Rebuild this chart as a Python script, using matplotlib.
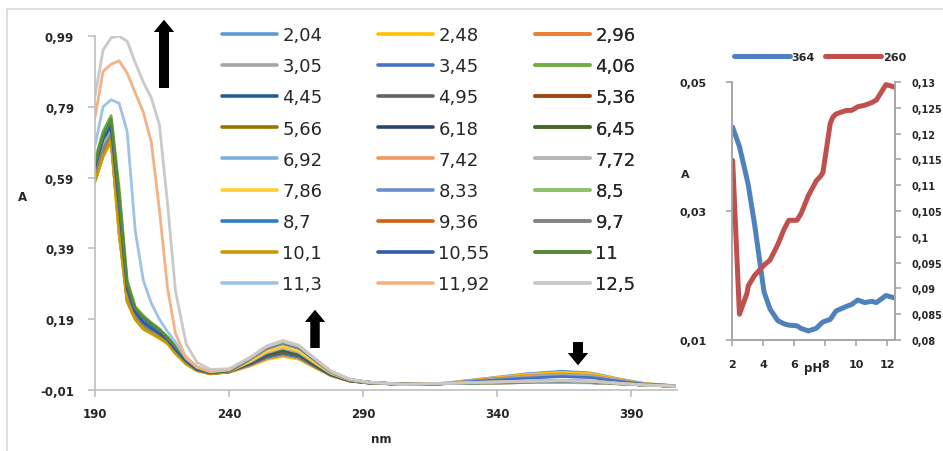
import matplotlib.pyplot as plt
from matplotlib.lines import Line2D

# wavelength grid (nm) for the spectra
wavelengths = [190, 193, 196, 199, 202, 205, 208, 211, 214, 217, 220, 224, 228, 233, 240,
               248, 254, 260, 266, 272, 278, 285, 292, 305, 320, 335, 350, 364, 375, 385,
               395, 406]

ph_values = [2.04, 2.48, 2.96, 3.05, 3.45, 4.06, 4.45, 4.95, 5.36, 5.66, 6.18, 6.45, 6.92,
             7.42, 7.72, 7.86, 8.33, 8.5, 8.7, 9.36, 9.7, 10.1, 10.55, 11, 11.3, 11.92, 12.5]
ph_labels = ['2,04', '2,48', '2,96', '3,05', '3,45', '4,06', '4,45', '4,95', '5,36', '5,66',
             '6,18', '6,45', '6,92', '7,42', '7,72', '7,86', '8,33', '8,5', '8,7', '9,36',
             '9,7', '10,1', '10,55', '11', '11,3', '11,92', '12,5']
series_colors = ['#5B9BD5', '#FFC000', '#ED7D31', '#A5A5A5', '#4472C4', '#70AD47',
                 '#255E91', '#636363', '#9E480E', '#997300', '#264478', '#43682B',
                 '#7CAFDD', '#F1975A', '#B7B7B7', '#FFCD33', '#698ED0', '#8CC168',
                 '#327DC2', '#D26012', '#848484', '#CC9A00', '#335AA1', '#5A8A39',
                 '#9DC3E6', '#F4B183', '#C9C9C9']

# absorbance of each spectrum, one row per pH (same order as ph_values)
spectra = [
    [0.61, 0.68, 0.72, 0.49, 0.26, 0.205, 0.175, 0.16, 0.147, 0.13, 0.102, 0.07, 0.048, 0.038, 0.043, 0.072, 0.1, 0.115, 0.103, 0.07, 0.038, 0.018, 0.011, 0.006, 0.009, 0.022, 0.035, 0.043, 0.038, 0.022, 0.008, 0.002],
    [0.58, 0.65, 0.70, 0.44, 0.24, 0.19, 0.162, 0.15, 0.136, 0.122, 0.094, 0.064, 0.045, 0.036, 0.04, 0.058, 0.076, 0.085, 0.077, 0.053, 0.03, 0.015, 0.01, 0.006, 0.009, 0.021, 0.033, 0.040, 0.036, 0.021, 0.008, 0.002],
    [0.60, 0.67, 0.71, 0.46, 0.25, 0.195, 0.168, 0.153, 0.14, 0.125, 0.097, 0.066, 0.046, 0.037, 0.041, 0.06, 0.079, 0.089, 0.08, 0.055, 0.031, 0.015, 0.01, 0.006, 0.008, 0.019, 0.029, 0.035, 0.031, 0.018, 0.007, 0.002],
    [0.59, 0.66, 0.705, 0.45, 0.245, 0.192, 0.165, 0.152, 0.138, 0.124, 0.096, 0.065, 0.046, 0.037, 0.041, 0.061, 0.08, 0.0905, 0.081, 0.056, 0.031, 0.015, 0.01, 0.006, 0.008, 0.018, 0.028, 0.034, 0.030, 0.018, 0.007, 0.002],
    [0.62, 0.70, 0.735, 0.52, 0.28, 0.215, 0.19, 0.17, 0.155, 0.135, 0.108, 0.075, 0.05, 0.039, 0.043, 0.063, 0.082, 0.0925, 0.083, 0.057, 0.032, 0.016, 0.01, 0.006, 0.008, 0.016, 0.023, 0.028, 0.025, 0.015, 0.006, 0.002],
    [0.64, 0.72, 0.765, 0.56, 0.30, 0.225, 0.20, 0.18, 0.163, 0.14, 0.115, 0.082, 0.055, 0.04, 0.045, 0.065, 0.084, 0.0945, 0.085, 0.058, 0.033, 0.016, 0.01, 0.006, 0.008, 0.012, 0.015, 0.0175, 0.015, 0.01, 0.005, 0.001],
    [0.60, 0.67, 0.715, 0.47, 0.255, 0.2, 0.17, 0.155, 0.142, 0.127, 0.099, 0.067, 0.047, 0.037, 0.042, 0.064, 0.085, 0.0955, 0.086, 0.059, 0.033, 0.016, 0.01, 0.006, 0.008, 0.011, 0.013, 0.0148, 0.013, 0.009, 0.004, 0.001],
    [0.59, 0.66, 0.705, 0.45, 0.25, 0.196, 0.167, 0.153, 0.14, 0.125, 0.097, 0.066, 0.046, 0.037, 0.042, 0.066, 0.087, 0.0985, 0.088, 0.06, 0.034, 0.017, 0.01, 0.006, 0.008, 0.01, 0.012, 0.013, 0.012, 0.008, 0.004, 0.001],
    [0.60, 0.67, 0.71, 0.46, 0.25, 0.197, 0.168, 0.154, 0.141, 0.126, 0.098, 0.066, 0.046, 0.037, 0.042, 0.067, 0.089, 0.1015, 0.091, 0.062, 0.035, 0.017, 0.011, 0.006, 0.008, 0.01, 0.011, 0.0125, 0.011, 0.008, 0.004, 0.001],
    [0.59, 0.66, 0.70, 0.45, 0.245, 0.194, 0.166, 0.152, 0.139, 0.124, 0.096, 0.065, 0.046, 0.037, 0.042, 0.068, 0.091, 0.1032, 0.092, 0.063, 0.035, 0.017, 0.011, 0.006, 0.008, 0.01, 0.011, 0.0123, 0.011, 0.008, 0.004, 0.001],
    [0.60, 0.67, 0.71, 0.46, 0.25, 0.198, 0.169, 0.155, 0.142, 0.127, 0.099, 0.067, 0.047, 0.037, 0.042, 0.068, 0.091, 0.1032, 0.092, 0.063, 0.035, 0.017, 0.011, 0.006, 0.008, 0.01, 0.011, 0.0122, 0.011, 0.008, 0.004, 0.001],
    [0.58, 0.65, 0.695, 0.43, 0.24, 0.19, 0.163, 0.15, 0.137, 0.122, 0.094, 0.064, 0.045, 0.036, 0.041, 0.068, 0.092, 0.1045, 0.093, 0.064, 0.036, 0.017, 0.011, 0.006, 0.008, 0.01, 0.011, 0.0118, 0.011, 0.008, 0.004, 0.001],
    [0.61, 0.68, 0.72, 0.48, 0.26, 0.2, 0.172, 0.157, 0.144, 0.128, 0.1, 0.068, 0.047, 0.038, 0.043, 0.07, 0.095, 0.108, 0.096, 0.066, 0.037, 0.018, 0.011, 0.006, 0.008, 0.01, 0.011, 0.0114, 0.01, 0.007, 0.004, 0.001],
    [0.60, 0.67, 0.71, 0.46, 0.25, 0.196, 0.168, 0.154, 0.141, 0.126, 0.098, 0.066, 0.046, 0.037, 0.043, 0.072, 0.097, 0.1108, 0.099, 0.067, 0.037, 0.018, 0.011, 0.006, 0.008, 0.01, 0.011, 0.0118, 0.011, 0.008, 0.004, 0.001],
    [0.59, 0.66, 0.70, 0.45, 0.245, 0.193, 0.166, 0.152, 0.139, 0.124, 0.096, 0.065, 0.046, 0.037, 0.043, 0.072, 0.098, 0.1118, 0.1, 0.068, 0.038, 0.018, 0.011, 0.006, 0.008, 0.01, 0.011, 0.0125, 0.011, 0.008, 0.004, 0.001],
    [0.58, 0.65, 0.69, 0.43, 0.24, 0.19, 0.162, 0.15, 0.136, 0.121, 0.093, 0.063, 0.045, 0.036, 0.042, 0.073, 0.099, 0.1125, 0.1, 0.068, 0.038, 0.018, 0.011, 0.006, 0.008, 0.01, 0.012, 0.0128, 0.012, 0.008, 0.004, 0.001],
    [0.60, 0.67, 0.71, 0.47, 0.255, 0.198, 0.17, 0.155, 0.142, 0.127, 0.099, 0.067, 0.047, 0.038, 0.044, 0.078, 0.107, 0.122, 0.109, 0.074, 0.041, 0.019, 0.012, 0.006, 0.008, 0.01, 0.012, 0.0132, 0.012, 0.008, 0.004, 0.001],
    [0.61, 0.69, 0.73, 0.50, 0.27, 0.21, 0.18, 0.163, 0.15, 0.132, 0.104, 0.071, 0.049, 0.038, 0.044, 0.079, 0.108, 0.1232, 0.11, 0.075, 0.041, 0.019, 0.012, 0.006, 0.008, 0.01, 0.012, 0.0138, 0.012, 0.008, 0.004, 0.001],
    [0.62, 0.70, 0.74, 0.51, 0.275, 0.212, 0.182, 0.165, 0.151, 0.133, 0.105, 0.072, 0.049, 0.038, 0.044, 0.079, 0.108, 0.1238, 0.11, 0.075, 0.041, 0.019, 0.012, 0.006, 0.008, 0.011, 0.013, 0.0145, 0.013, 0.009, 0.004, 0.001],
    [0.59, 0.66, 0.70, 0.45, 0.245, 0.194, 0.166, 0.152, 0.139, 0.124, 0.096, 0.065, 0.046, 0.037, 0.043, 0.079, 0.109, 0.1245, 0.111, 0.076, 0.042, 0.019, 0.012, 0.006, 0.008, 0.011, 0.013, 0.0152, 0.013, 0.009, 0.004, 0.001],
    [0.60, 0.67, 0.71, 0.46, 0.25, 0.197, 0.168, 0.154, 0.141, 0.126, 0.098, 0.066, 0.046, 0.037, 0.043, 0.079, 0.109, 0.1245, 0.111, 0.076, 0.042, 0.019, 0.012, 0.006, 0.008, 0.011, 0.013, 0.0155, 0.014, 0.009, 0.004, 0.001],
    [0.58, 0.65, 0.695, 0.44, 0.24, 0.19, 0.163, 0.15, 0.137, 0.122, 0.094, 0.064, 0.045, 0.036, 0.043, 0.08, 0.11, 0.1252, 0.112, 0.076, 0.042, 0.019, 0.012, 0.006, 0.008, 0.011, 0.014, 0.0162, 0.014, 0.009, 0.004, 0.001],
    [0.62, 0.70, 0.735, 0.51, 0.275, 0.21, 0.18, 0.164, 0.15, 0.132, 0.104, 0.071, 0.048, 0.038, 0.044, 0.08, 0.11, 0.1255, 0.112, 0.076, 0.042, 0.019, 0.012, 0.006, 0.008, 0.011, 0.014, 0.0158, 0.014, 0.009, 0.004, 0.001],
    [0.63, 0.71, 0.755, 0.54, 0.29, 0.22, 0.195, 0.177, 0.16, 0.138, 0.112, 0.078, 0.052, 0.039, 0.045, 0.081, 0.111, 0.126, 0.113, 0.077, 0.042, 0.019, 0.012, 0.006, 0.008, 0.011, 0.014, 0.016, 0.014, 0.009, 0.004, 0.001],
    [0.68, 0.79, 0.81, 0.80, 0.72, 0.44, 0.30, 0.235, 0.19, 0.155, 0.125, 0.08, 0.055, 0.042, 0.047, 0.081, 0.111, 0.1265, 0.113, 0.077, 0.042, 0.02, 0.012, 0.006, 0.008, 0.011, 0.014, 0.0158, 0.014, 0.009, 0.004, 0.001],
    [0.76, 0.89, 0.91, 0.92, 0.885, 0.83, 0.775, 0.69, 0.50, 0.28, 0.15, 0.08, 0.055, 0.042, 0.048, 0.083, 0.114, 0.1295, 0.116, 0.079, 0.043, 0.02, 0.012, 0.006, 0.009, 0.012, 0.015, 0.0169, 0.015, 0.009, 0.004, 0.001],
    [0.82, 0.95, 0.985, 0.99, 0.975, 0.915, 0.86, 0.815, 0.74, 0.52, 0.27, 0.12, 0.068, 0.048, 0.05, 0.083, 0.114, 0.129, 0.116, 0.079, 0.043, 0.02, 0.012, 0.006, 0.009, 0.012, 0.015, 0.0165, 0.015, 0.009, 0.004, 0.001],
]

# absorbance vs pH at the two wavelengths (inset)
abs_364 = [0.043, 0.040, 0.035, 0.034, 0.028, 0.0175, 0.0148, 0.013, 0.0125, 0.0123, 0.0122,
           0.0118, 0.0114, 0.0118, 0.0125, 0.0128, 0.0132, 0.0138, 0.0145, 0.0152, 0.0155,
           0.0162, 0.0158, 0.016, 0.0158, 0.0169, 0.0165]
abs_260 = [0.1148, 0.085, 0.089, 0.0905, 0.0925, 0.0945, 0.0955, 0.0985, 0.1015, 0.1032,
           0.1032, 0.1045, 0.108, 0.1108, 0.1118, 0.1125, 0.122, 0.1232, 0.1238, 0.1245,
           0.1245, 0.1252, 0.1255, 0.126, 0.1265, 0.1295, 0.129]

main_xticks = [190, 240, 290, 340, 390]
main_yticks = [-0.01, 0.19, 0.39, 0.59, 0.79, 0.99]
inset_xticks = [2, 4, 6, 8, 10, 12]
inset_yticks = [0.01, 0.03, 0.05]
inset_y2ticks = [0.08, 0.085, 0.09, 0.095, 0.1, 0.105, 0.11, 0.115, 0.12, 0.125, 0.13]

W, H = 943, 452
TXT = '#262626'
AXC = '#BFBFBF'


def fx(px):
    return px / W


def fy(py):
    return 1 - py / H


def comma(v):
    return f'{v:g}'.replace('.', ',')


fig = plt.figure(figsize=(W / 100, H / 100), dpi=100)

# outer chart border (left and top visible)
fig.add_artist(Line2D([fx(7), fx(7), 1.0], [0.0, fy(10), fy(10)],
                      transform=fig.transFigure, color='#D9D9D9', lw=1.2))

# ---- main spectra ----
ax = fig.add_axes([fx(95), fy(391), fx(677) - fx(95), fy(37) - fy(391)])
lines = []
for lab, col, ys in zip(ph_labels, series_colors, spectra):
    ln, = ax.plot(wavelengths, ys, color=col, lw=2.0, label=lab,
                  solid_capstyle='round', solid_joinstyle='round')
    lines.append(ln)

ax.set_xlim(190, 407)
ax.set_ylim(-0.01, 0.99)
ax.set_xticks(main_xticks)
ax.set_xticklabels([str(t) for t in main_xticks])
ax.set_yticks(main_yticks)
ax.set_yticklabels([comma(t) for t in main_yticks])
for side in ('top', 'right'):
    ax.spines[side].set_visible(False)
for side in ('left', 'bottom'):
    ax.spines[side].set_color(AXC)
    ax.spines[side].set_linewidth(1.2)
ax.tick_params(colors=AXC, length=5, width=1.2, labelcolor=TXT, labelsize=8.5)
ax.tick_params(axis='y', pad=10)
ax.tick_params(axis='x', pad=7)
for lbl in ax.get_xticklabels() + ax.get_yticklabels():
    lbl.set_fontweight('bold')
ax.set_facecolor('none')

fig.text(fx(23), fy(198), 'A', fontsize=8.5, fontweight='bold', color=TXT,
         ha='center', va='center')
fig.text(fx(381), fy(440), 'nm', fontsize=8.5, fontweight='bold', color=TXT,
         ha='center', va='center')

# legend: three columns filled row by row
col_x = [222, 378, 535]
for c in range(3):
    leg = ax.legend(handles=lines[c::3], loc='upper left', frameon=False,
                    bbox_to_anchor=(fx(col_x[c]), fy(27)), bbox_transform=fig.transFigure,
                    fontsize=13, handlelength=3.05, handletextpad=0.3,
                    labelspacing=0.73, borderpad=0, borderaxespad=0)
    for t in leg.get_texts():
        t.set_color(TXT)
    for h in leg.get_lines():
        h.set_linewidth(2.6)
    ax.add_artist(leg)

# black arrows
arrow_specs = [((164, 89), (164, 21), 10, 20, 12),
               ((315, 349), (315, 311), 9, 20, 12),
               ((578, 343), (578, 366), 10, 20, 12)]
for (x0, y0), (x1, y1), w, hw, hl in arrow_specs:
    fig.add_artist(plt.annotate('', xy=(x1, H - y1), xytext=(x0, H - y0),
                                xycoords='figure pixels', textcoords='figure pixels',
                                arrowprops=dict(facecolor='black', edgecolor='none',
                                                width=w * 0.72, headwidth=hw * 0.72,
                                                headlength=hl * 0.72, shrink=0)))

# ---- inset: absorbance vs pH ----
ix = fig.add_axes([fx(732), fy(341), fx(895) - fx(732), fy(83) - fy(341)])
ix2 = ix.twinx()
l364, = ix.plot(ph_values, abs_364, color='#4F81BD', lw=3.6, label='364',
                solid_capstyle='round', solid_joinstyle='round')
l260, = ix2.plot(ph_values, abs_260, color='#C0504D', lw=3.6, label='260',
                 solid_capstyle='round', solid_joinstyle='round')
ix.set_xlim(2, 12.5)
ix.set_ylim(0.01, 0.05)
ix2.set_ylim(0.08, 0.13)
ix.set_xticks(inset_xticks)
ix.set_xticklabels([str(t) for t in inset_xticks])
ix.set_yticks(inset_yticks)
ix.set_yticklabels([comma(t) for t in inset_yticks])
ix2.set_yticks(inset_y2ticks)
ix2.set_yticklabels([comma(t) for t in inset_y2ticks])
for a in (ix, ix2):
    a.spines['top'].set_visible(False)
    for side in ('left', 'right', 'bottom'):
        a.spines[side].set_color('#A6A6A6')
        a.spines[side].set_linewidth(1.2)
    a.tick_params(colors='#A6A6A6', length=4, width=1.2, labelcolor=TXT, labelsize=8)
    for lbl in a.get_xticklabels() + a.get_yticklabels():
        lbl.set_fontweight('bold')
ix.tick_params(axis='y', pad=14)
ix.tick_params(axis='x', pad=10)
ix2.tick_params(axis='y', pad=8, labelsize=7)
ix.set_facecolor('none')

fig.text(fx(685), fy(175), 'A', fontsize=8, fontweight='bold', color=TXT,
         ha='center', va='center')
fig.text(fx(813), fy(369), 'pH', fontsize=8.5, fontweight='bold', color=TXT,
         ha='center', va='center')

ileg = fig.legend(handles=[l364, l260], loc='center left', ncol=2, frameon=False,
                  bbox_to_anchor=(fx(734), fy(58)),
                  prop={'weight': 'bold', 'size': 8},
                  handlelength=5.0, handletextpad=0.2, columnspacing=0.9,
                  borderpad=0, borderaxespad=0)
for t in ileg.get_texts():
    t.set_color(TXT)

fig.savefig('out.png', dpi=100)
